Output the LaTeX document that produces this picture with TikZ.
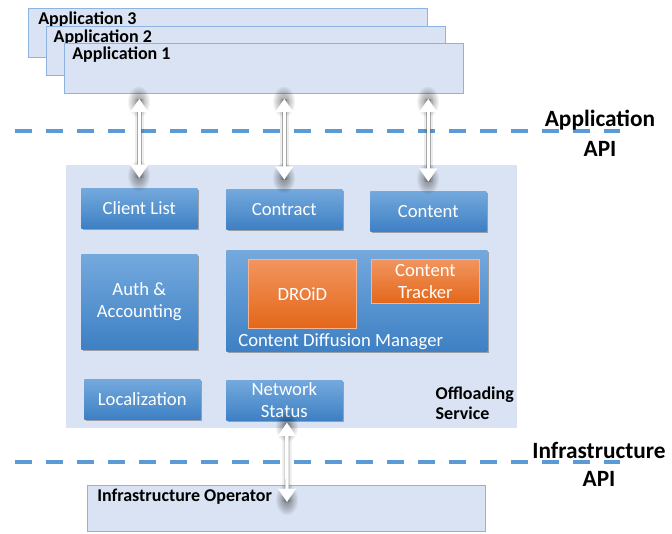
\documentclass[tikz,border=0pt]{standalone}
\usepackage{fontspec}
\setmainfont{Carlito}
\usetikzlibrary{arrows.meta,shadows}

\definecolor{paleblue}{HTML}{DAE3F3}
\definecolor{edgeblue}{HTML}{8DB3E2}
\definecolor{dashblue}{HTML}{5B9BD5}
\definecolor{boxtop}{HTML}{74A9DD}
\definecolor{boxbot}{HTML}{3E80C4}
\definecolor{orangetop}{HTML}{F2955F}
\definecolor{orangebot}{HTML}{E3671A}

\begin{document}
\begin{tikzpicture}[x=0.75pt,y=-0.75pt,
    appbox/.style={draw=edgeblue,line width=0.8pt,fill=paleblue,anchor=north west,inner sep=0pt,
        minimum width=299.25pt,minimum height=36.75pt},
    applabel/.style={anchor=north west,inner sep=0pt,font=\fontsize{13.5}{15}\selectfont\bfseries},
    svcbox/.style={anchor=north west,inner sep=0pt,top color=boxtop,bottom color=boxbot,text=white,
        align=center,font=\fontsize{14}{16.5}\selectfont,
        drop shadow={shadow xshift=1.2pt,shadow yshift=-1.2pt,opacity=.45,fill=black!70},
        minimum width=87pt,minimum height=30pt},
    orangebox/.style={anchor=north west,inner sep=0pt,top color=orangetop,bottom color=orangebot,
        draw=orangetop!70!white,line width=0.6pt,text=white,align=center,
        font=\fontsize{14}{16.5}\selectfont,minimum width=81pt},
    apidash/.style={dashblue,line width=3pt,dash pattern=on 12.75pt off 10.5pt},
    apiarrow/.style={white,line width=2.6pt,{Triangle[width=13pt,length=10pt]}-{Triangle[width=13pt,length=10pt]},
        preaction={draw=black,opacity=.07,line width=7pt,-},
        preaction={draw=black!60,opacity=.5,line width=3.6pt,-}},
    tipglow/.style={fill=black,opacity=.045},
    apilabel/.style={align=center,font=\fontsize{17.5}{22.5}\selectfont\bfseries}]

    \useasboundingbox (0,0) rectangle (672,533);

    % Stacked applications
    \node[appbox] (app3) at (28,8) {};
    \node[applabel] at ([xshift=7.5pt,yshift=-3pt]app3.north west) {Application 3};
    \node[appbox] (app2) at (46,26) {};
    \node[applabel] at ([xshift=5.5pt,yshift=-3pt]app2.north west) {Application 2};
    \node[appbox,minimum height=37.5pt] (app1) at (64,43) {};
    \node[applabel] at ([xshift=6pt,yshift=-3pt]app1.north west) {Application 1};

    % API borders
    \draw[apidash] (15,131) -- (620,131);
    \node[apilabel] at (600,133) {Application\\API};
    \draw[apidash] (15,462) -- (620,462);
    \node[apilabel,font=\fontsize{17.5}{21}\selectfont\bfseries] at (599,464) {Infrastructure\\API};

    % Offloading service and its parts
    \node[fill=paleblue,anchor=north west,inner sep=0pt,minimum width=338.25pt,minimum height=197.25pt] (svc) at (66,165) {};
    \node[anchor=west,align=left,font=\fontsize{13.5}{15}\selectfont\bfseries] (svclabel) at (431,403) {Offloading\\Service};

    \node[svcbox] (client) at (81,188) {Client List};
    \node[svcbox] (contract) at (226,189) {Contract};
    \node[svcbox] (content) at (370,191) {Content};
    \node[svcbox,minimum height=71.25pt] (auth) at (81,254) {Auth \&\\Accounting};
    \node[svcbox,minimum width=195.75pt,minimum height=75.75pt] (cdm) at (226,250) {};
    \node[text=white,font=\fontsize{14}{16.5}\selectfont] at ([xshift=-12pt,yshift=7.5pt]cdm.south) {Content Diffusion Manager};
    \node[orangebox,minimum height=51.75pt] (droid) at (248,259) {DROiD};
    \node[orangebox,minimum height=33pt] (tracker) at (371,259) {Content\\Tracker};
    \node[svcbox] (local) at (84,379) {Localization};
    \node[svcbox] (net) at (226,380) {Network\\Status};

    % Infrastructure operator
    \node[appbox,minimum width=298.5pt,minimum height=34.5pt] (infra) at (87,485) {};
    \node[applabel] at ([xshift=7.5pt,yshift=-3pt]infra.north west) {Infrastructure Operator};

    % Interfaces (soft shadow round the tips first)
    \foreach \x/\ya/\yb in {139/102/176,284/102/178,428/102/179,287/427/500} {
        \foreach \r in {3,4,...,11} {
            \fill[tipglow] (\x,\ya) ellipse [x radius=\r, y radius=1.4*\r];
            \fill[tipglow] (\x,\yb) ellipse [x radius=\r, y radius=1.4*\r];
        }
    }
    \draw[apiarrow,shorten <=3.5pt,shorten >=7.5pt] (client.north |- app1.south) -- (client.north);
    \draw[apiarrow,shorten <=3.5pt,shorten >=7pt] (contract.north |- app1.south) -- (contract.north);
    \draw[apiarrow,shorten <=3.5pt,shorten >=7pt] (content.north |- app1.south) -- (content.north);
    \coordinate (opend) at (287,502);
    \draw[apiarrow,shorten <=1.5pt] ([xshift=2pt]net.south) -- (opend);
\end{tikzpicture}
\end{document}
